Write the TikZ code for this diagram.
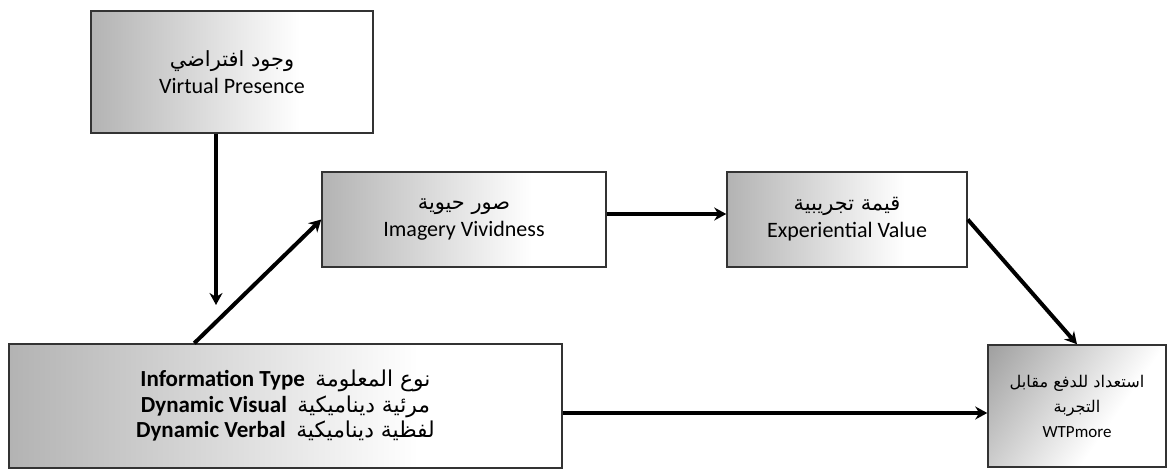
\documentclass[tikz,border=0pt]{standalone}
\usepackage{fontspec}
\setmainfont{Carlito}
\newfontfamily\arfont[Script=Arabic,Scale=0.95]{DejaVu Sans}
\TeXXeTstate=1
\usetikzlibrary{arrows.meta,calc}
\pgfdeclarehorizontalshading{boxfade}{100bp}{color(0bp)=(black!50);
  color(62bp)=(white); color(100bp)=(white)}
\newcommand{\ar}[1]{{\arfont\mdseries\beginR #1\endR}}

\begin{document}
\begin{tikzpicture}[x=0.5pt, y=-0.5pt,
    font=\fontsize{11}{13.5}\selectfont,
    box/.style={draw=black!80, line width=0.75pt, shading=boxfade,
      inner sep=0pt, align=center},
    arr/.style={line width=2pt, -{Stealth[length=6pt,width=6.5pt]}}]
        \useasboundingbox (0,0) rectangle (1167,469);

        % boxes
        \node[box, minimum width=141pt, minimum height=61pt]
            (vp) at (232,72) {\ar{وجود افتراضي}\\Virtual Presence};
        \node[box, minimum width=142pt, minimum height=47.5pt]
            (iv) at (464,219.5) {\ar{صور حيوية}\\Imagery Vividness};
        \node[box, minimum width=120pt, minimum height=47.5pt]
            (ev) at (847,219.5) {\ar{قيمة تجريبية}\\Experiential Value};
        \node[box, minimum width=276.5pt, minimum height=62pt,
              font=\fontsize{11.5}{12.75}\selectfont\bfseries]
            (info) at (285.5,406) {Information Type~~\ar{نوع المعلومة}\\
                                   Dynamic Visual~~\ar{مرئية ديناميكية}\\
                                   Dynamic Verbal~~\ar{لفظية ديناميكية}};
        \node[box, minimum width=89pt, minimum height=61pt,
              shading angle=-35, font=\fontsize{8.5}{12.5}\selectfont]
            (wtp) at (1077,406) {\ar{استعداد للدفع مقابل}\\\ar{التجربة}\\WTPmore};

        % arrows
        \coordinate (vpend) at (216,305);
        \draw[arr] (vp.south -| vpend) -- (vpend);
        \draw[arr] ($(info.north west)+(186,0)$) -- (iv.west);
        \draw[arr] ([yshift=2.75pt]iv.east) -- ([yshift=2.75pt]ev.west);
        \draw[arr] (ev.east) -- (wtp.north);
        \draw[arr] ([yshift=-3.5pt]info.east) -- ([yshift=-3.5pt]wtp.west);
    \end{tikzpicture}
\end{document}
